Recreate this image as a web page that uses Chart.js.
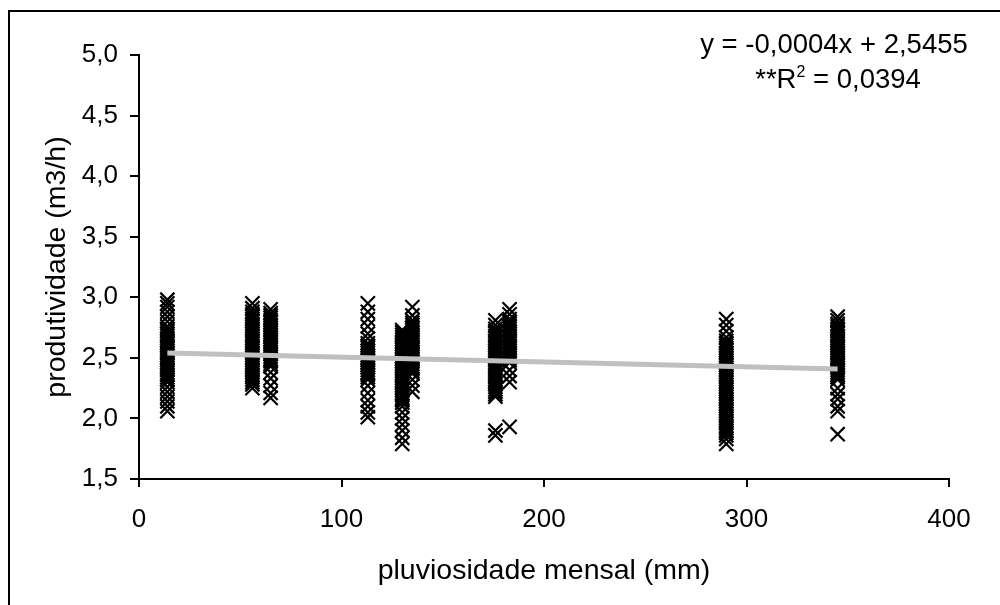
<!DOCTYPE html>
<html>
<head>
<meta charset="utf-8">
<script src="https://cdn.jsdelivr.net/npm/chart.js@4.4.1/dist/chart.umd.min.js"></script>
<style>
  html, body { margin: 0; padding: 0; background: #fff; }
  #wrap { width: 1000px; height: 605px; position: relative; }
</style>
</head>
<body>
<div id="wrap"><canvas id="rainChart"></canvas></div>
<script>
// monthly rainfall (mm) for each sampled month
const rainfall = [14, 56, 65, 113, 130, 135, 176, 183, 290, 345];

// productivity readings (m3/h), one array per month, same order as rainfall
const prod14  = [2.98, 2.95, 2.92, 2.88, 2.84, 2.80, 2.76, 2.74, 2.72, 2.70, 2.68, 2.66, 2.64, 2.62, 2.60, 2.58, 2.56, 2.54, 2.52, 2.50, 2.48, 2.46, 2.44, 2.42, 2.40, 2.38, 2.36, 2.34, 2.32, 2.30, 2.26, 2.22, 2.18, 2.14, 2.10, 2.06];
const prod56  = [2.95, 2.91, 2.88, 2.86, 2.84, 2.82, 2.80, 2.78, 2.76, 2.74, 2.72, 2.70, 2.68, 2.66, 2.64, 2.62, 2.60, 2.58, 2.56, 2.54, 2.52, 2.50, 2.48, 2.46, 2.44, 2.42, 2.40, 2.38, 2.36, 2.34, 2.32, 2.30, 2.28, 2.25];
const prod65  = [2.90, 2.87, 2.85, 2.83, 2.81, 2.79, 2.77, 2.75, 2.73, 2.71, 2.69, 2.67, 2.65, 2.63, 2.61, 2.59, 2.57, 2.55, 2.53, 2.51, 2.49, 2.47, 2.45, 2.43, 2.38, 2.33, 2.27, 2.21, 2.17];
const prod113 = [2.95, 2.88, 2.82, 2.76, 2.70, 2.66, 2.62, 2.60, 2.58, 2.56, 2.54, 2.52, 2.50, 2.48, 2.46, 2.44, 2.42, 2.40, 2.38, 2.36, 2.34, 2.32, 2.27, 2.21, 2.15, 2.10, 2.05, 2.01];
const prod130 = [2.73, 2.71, 2.69, 2.67, 2.65, 2.63, 2.61, 2.59, 2.57, 2.55, 2.53, 2.51, 2.49, 2.47, 2.45, 2.43, 2.41, 2.39, 2.37, 2.35, 2.33, 2.31, 2.29, 2.27, 2.25, 2.23, 2.21, 2.19, 2.17, 2.15, 2.13, 2.10, 2.05, 2.00, 1.95, 1.90, 1.84, 1.79];
const prod135 = [2.92, 2.85, 2.81, 2.79, 2.77, 2.75, 2.73, 2.71, 2.69, 2.67, 2.65, 2.63, 2.61, 2.59, 2.57, 2.55, 2.53, 2.51, 2.49, 2.47, 2.45, 2.43, 2.41, 2.39, 2.37, 2.32, 2.27, 2.22];
const prod176 = [2.81, 2.77, 2.74, 2.72, 2.70, 2.68, 2.66, 2.64, 2.62, 2.60, 2.58, 2.56, 2.54, 2.52, 2.50, 2.48, 2.46, 2.44, 2.42, 2.40, 2.38, 2.36, 2.34, 2.32, 2.30, 2.28, 2.26, 2.24, 2.22, 2.20, 2.18, 1.90, 1.86];
const prod183 = [2.90, 2.86, 2.82, 2.80, 2.78, 2.76, 2.74, 2.72, 2.70, 2.68, 2.66, 2.64, 2.62, 2.60, 2.58, 2.56, 2.54, 2.52, 2.50, 2.48, 2.46, 2.40, 2.35, 2.30, 1.93];
const prod290 = [2.82, 2.77, 2.72, 2.67, 2.64, 2.62, 2.60, 2.58, 2.56, 2.54, 2.52, 2.50, 2.48, 2.46, 2.44, 2.42, 2.40, 2.38, 2.36, 2.34, 2.32, 2.30, 2.28, 2.26, 2.24, 2.22, 2.20, 2.18, 2.16, 2.14, 2.12, 2.10, 2.08, 2.06, 2.04, 2.02, 2.00, 1.98, 1.96, 1.94, 1.92, 1.90, 1.88, 1.86, 1.83, 1.79];
const prod345 = [2.84, 2.81, 2.78, 2.76, 2.74, 2.72, 2.70, 2.68, 2.66, 2.64, 2.62, 2.60, 2.58, 2.56, 2.54, 2.52, 2.50, 2.48, 2.46, 2.44, 2.42, 2.40, 2.38, 2.36, 2.34, 2.32, 2.25, 2.20, 2.16, 2.10, 2.06, 1.87];

const productivity = [prod14, prod56, prod65, prod113, prod130, prod135, prod176, prod183, prod290, prod345];

// linear fit
const slope = -0.0004;
const intercept = 2.5455;
const rSquared = '0,0394';

const FONT = "'Liberation Sans', Arial, sans-serif";
const fmt = (v, d) => v.toFixed(d).replace('.', ',');

const points = [];
rainfall.forEach((x, i) => {
    productivity[i].forEach(y => points.push({ x: x, y: y }));
});

const xFirst = rainfall[0];
const xLast = rainfall[rainfall.length - 1];
const trend = [
    { x: xFirst, y: slope * xFirst + intercept },
    { x: xLast,  y: slope * xLast + intercept }
];

// outer frame + equation text
const framePlugin = {
    id: 'frame',
    beforeDraw(chart) {
        const ctx = chart.ctx;
        ctx.save();
        ctx.fillStyle = '#fff';
        ctx.fillRect(0, 0, chart.width, chart.height);
        ctx.strokeStyle = '#000';
        ctx.lineWidth = 2;
        ctx.strokeRect(9, 11, chart.width + 20, chart.height + 20);
        ctx.restore();
    },
    afterDraw(chart) {
        const ctx = chart.ctx;
        const big = '27.5px ' + FONT, small = '16px ' + FONT;
        ctx.save();
        ctx.fillStyle = '#000';
        ctx.textBaseline = 'alphabetic';
        ctx.font = big;
        ctx.textAlign = 'center';
        ctx.fillText('y = ' + fmt(slope, 4) + 'x + ' + fmt(intercept, 4), 834, 53);

        // second line: **R² = ...
        const a = '**R', b = '2', c = ' = ' + rSquared;
        ctx.font = big;
        const wa = ctx.measureText(a).width, wc = ctx.measureText(c).width;
        ctx.font = small;
        const wb = ctx.measureText(b).width;
        let x = 838 - (wa + wb + wc) / 2;
        ctx.textAlign = 'left';
        ctx.font = big;
        ctx.fillText(a, x, 88);
        x += wa;
        ctx.font = small;
        ctx.fillText(b, x, 77);
        x += wb;
        ctx.font = big;
        ctx.fillText(c, x, 88);
        ctx.restore();
    }
};

new Chart(document.getElementById('rainChart'), {
    type: 'scatter',
    data: {
        datasets: [
            {
                type: 'line',
                data: trend,
                borderColor: '#c0c0c0',
                borderWidth: 5,
                pointRadius: 0,
                fill: false,
                order: 0
            },
            {
                data: points,
                pointStyle: 'crossRot',
                pointRadius: 10,
                borderColor: '#000',
                borderWidth: 2.2,
                order: 1
            }
        ]
    },
    options: {
        responsive: true,
        maintainAspectRatio: false,
        animation: false,
        layout: { padding: { top: 55, right: 51, left: 0, bottom: 0 } },
        plugins: {
            legend: { display: false },
            tooltip: { enabled: false }
        },
        scales: {
            x: {
                type: 'linear',
                min: 0,
                max: 400,
                ticks: {
                    stepSize: 100,
                    color: '#000',
                    padding: 17,
                    maxRotation: 0,
                    font: { family: FONT, size: 26 }
                },
                grid: { drawOnChartArea: false, tickLength: 8, color: '#000', lineWidth: 2 },
                border: { color: '#000', width: 2 },
                title: {
                    display: true,
                    text: 'pluviosidade mensal (mm)',
                    color: '#000',
                    font: { family: FONT, size: 28.5 },
                    padding: { top: 0, bottom: 17 }
                },
                afterFit: s => { s.height = 126; }
            },
            y: {
                min: 1.5,
                max: 5,
                ticks: {
                    stepSize: 0.5,
                    color: '#000',
                    padding: 12,
                    font: { family: FONT, size: 26 },
                    callback: v => fmt(v, 1)
                },
                grid: { drawOnChartArea: false, tickLength: 9, color: '#000', lineWidth: 2 },
                border: { color: '#000', width: 2 },
                title: {
                    display: true,
                    text: 'produtividade (m3/h)',
                    color: '#000',
                    font: { family: FONT, size: 28.5 },
                    padding: { top: 40, bottom: 0 }
                },
                afterFit: s => { s.width = 139; }
            }
        }
    },
    plugins: [framePlugin]
});
</script>
</body>
</html>
